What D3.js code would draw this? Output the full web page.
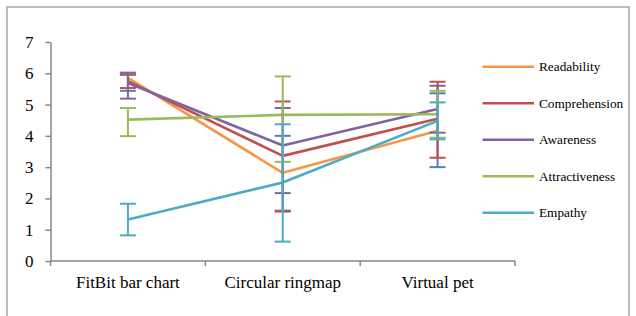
<!DOCTYPE html>
<html><head><meta charset="utf-8">
<script src="https://cdn.jsdelivr.net/npm/d3@7"></script>
<style>body{margin:0;background:#fff}svg{display:block}text{font-family:"Liberation Serif","DejaVu Serif",serif}</style>
</head><body><svg id="c" width="636" height="316"></svg>
<script>
const categories = ["FitBit bar chart", "Circular ringmap", "Virtual pet"];
const seriesNames = ["Readability", "Comprehension", "Awareness", "Attractiveness", "Empathy"];
const readability = [5.85, 2.82, 4.16];
const comprehension = [5.75, 3.36, 4.55];
const awareness = [5.69, 3.69, 4.86];
const attractiveness = [4.52, 4.67, 4.69];
const empathy = [1.33, 2.51, 4.48];
const readabilityLo = [5.44, 1.61, 3.00], readabilityHi = [5.95, 4.00, 5.36];
const comprehensionLo = [5.53, 1.58, 3.30], comprehensionHi = [5.97, 5.10, 5.73];
const awarenessLo = [5.19, 2.17, 4.10], awarenessHi = [6.02, 4.89, 5.60];
const attractivenessLo = [3.99, 3.17, 3.94], attractivenessHi = [4.89, 5.90, 5.44];
const empathyLo = [0.82, 0.62, 3.89], empathyHi = [1.83, 4.37, 5.07];
const yTicks = [0, 1, 2, 3, 4, 5, 6, 7];

const lineColors = ["#F79646", "#C0504D", "#8064A2", "#9BBB59", "#4BACC6"];
const errColors = ["#4F81BD", "#C0504D", "#8064A2", "#9BBB59", "#4BACC6"];
const series = [
  {name: seriesNames[0], v: readability, lo: readabilityLo, hi: readabilityHi},
  {name: seriesNames[1], v: comprehension, lo: comprehensionLo, hi: comprehensionHi},
  {name: seriesNames[2], v: awareness, lo: awarenessLo, hi: awarenessHi},
  {name: seriesNames[3], v: attractiveness, lo: attractivenessLo, hi: attractivenessHi},
  {name: seriesNames[4], v: empathy, lo: empathyLo, hi: empathyHi}
];

const svg = d3.select("#c");
svg.append("rect").attr("x", 7).attr("y", 7).attr("width", 622).attr("height", 330)
  .attr("fill", "none").attr("stroke", "#A6A6A6").attr("stroke-width", 1.5);

const x = d3.scaleBand().domain(categories).range([50.5, 515]).padding(0);
const y = d3.scaleLinear().domain([0, 7]).range([261, 42]);
const cx = c => x(c) + x.bandwidth() / 2;
const axisColor = "#868686";

// Y axis
const ya = svg.append("g").attr("transform", "translate(50.5,0)")
  .call(d3.axisLeft(y).tickValues(yTicks).tickSize(5).tickSizeOuter(0).tickPadding(12).tickFormat(d3.format("d")));
ya.select(".domain").attr("stroke", axisColor).attr("stroke-width", 1.5);
ya.selectAll(".tick line").attr("stroke", axisColor).attr("stroke-width", 1.5);
ya.selectAll(".tick text").attr("font-size", 17).attr("fill", "#000").attr("font-family", "Liberation Serif");

// X axis
const xa = svg.append("g").attr("transform", "translate(0,261)");
xa.append("line").attr("x1", 50.5).attr("x2", 515).attr("stroke", axisColor).attr("stroke-width", 1.5);
const edges = categories.map(c => x(c)).concat([x(categories[categories.length - 1]) + x.bandwidth()]);
xa.selectAll("line.t").data(edges).join("line").attr("class", "t")
  .attr("x1", d => d).attr("x2", d => d).attr("y1", 0).attr("y2", 5)
  .attr("stroke", axisColor).attr("stroke-width", 1.5);
xa.selectAll("text").data(categories).join("text")
  .attr("x", d => cx(d)).attr("y", 27).attr("text-anchor", "middle")
  .attr("font-size", 17).attr("fill", "#000").text(d => d);

// Lines
const line = d3.line().x((d, i) => cx(categories[i])).y(d => y(d));
series.forEach((s, k) => {
  svg.append("path").datum(s.v).attr("d", line).attr("fill", "none")
    .attr("stroke", lineColors[k]).attr("stroke-width", 2.6).attr("stroke-linejoin", "round");
});

// Error bars
series.forEach((s, k) => {
  const g = svg.append("g").attr("stroke", errColors[k]).attr("stroke-width", 2);
  categories.forEach((c, i) => {
    const px = cx(c);
    g.append("line").attr("x1", px).attr("x2", px).attr("y1", y(s.lo[i])).attr("y2", y(s.hi[i]));
    [s.lo[i], s.hi[i]].forEach(v => {
      g.append("line").attr("x1", px - 8).attr("x2", px + 8).attr("y1", y(v)).attr("y2", y(v));
    });
  });
});

// Legend
const lg = svg.append("g");
series.forEach((s, k) => {
  const ly = 66.7 + k * 36.5;
  lg.append("line").attr("x1", 482.5).attr("x2", 534).attr("y1", ly).attr("y2", ly)
    .attr("stroke", lineColors[k]).attr("stroke-width", 2.6);
  lg.append("text").attr("x", 539).attr("y", ly + 4.5).attr("font-size", 13.3).attr("fill", "#000").text(s.name);
});
</script></body></html>
